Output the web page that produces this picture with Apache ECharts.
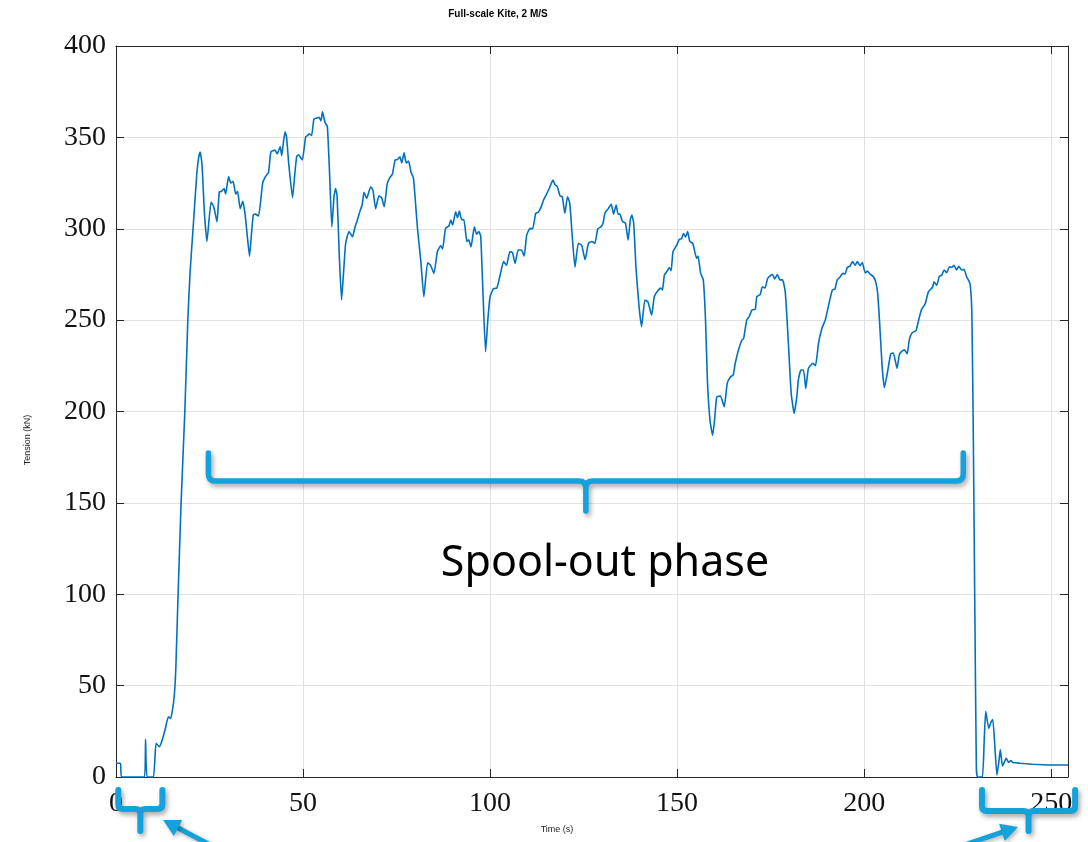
<!DOCTYPE html>
<html>
<head>
<meta charset="utf-8">
<title>Full-scale Kite, 2 M/S</title>
<script src="https://cdn.jsdelivr.net/npm/echarts@6/dist/echarts.min.js"></script>
<style>
  html, body { margin: 0; padding: 0; background: #fff; }
  #chart { width: 1088px; height: 842px; }
</style>
</head>
<body>
<div id="chart"></div>
<script>
// Tether tension record, full-scale kite at 2 m/s wind
const timeS = [
  0, 1.2, 1.5, 7.6, 7.9, 8.3, 10.0, 10.7, 11.6, 12.2, 13.1, 14.0, 14.6, 15.1, 15.6, 16.0, 16.6, 17.4, 18.4, 19.2,
  19.8, 20.6, 21.6, 22.1, 22.5, 23.0, 23.6, 24.3, 25.4, 25.9, 26.3, 27.0, 27.6, 28.2, 28.9, 29.3, 30.1, 30.7, 31.3, 32.0,
  32.5, 33.2, 33.9, 34.5, 35.1, 35.7, 36.2, 36.7, 37.2, 38.1, 39.2, 39.8, 40.3, 40.8, 41.4, 42.5, 43.1, 43.9, 44.3, 44.8,
  45.2, 45.6, 46.2, 47.2, 47.8, 48.3, 48.8, 49.8, 50.7, 51.2, 51.7, 52.3, 52.9, 53.6, 54.3, 54.8, 55.2, 55.9, 56.5, 57.1,
  57.7, 58.3, 58.7, 59.1, 59.7, 60.3, 60.8, 61.4, 62.3, 63.2, 63.9, 64.4, 65.2, 65.8, 66.3, 67.0, 68.1, 68.7, 69.4, 70.3,
  71.0, 71.7, 72.5, 73.2, 73.9, 74.6, 75.2, 75.9, 76.4, 77.0, 77.6, 78.2, 78.9, 79.5, 80.0, 80.6, 81.5, 82.3, 83.3, 84.1,
  85.0, 85.9, 86.8, 87.3, 88.1, 89.0, 89.5, 90.0, 90.8, 91.3, 91.8, 92.4, 93.0, 93.8, 94.3, 94.9, 95.8, 96.4, 97.0, 97.5,
  98.1, 98.8, 99.4, 100.0, 100.9, 101.8, 102.7, 103.6, 104.4, 105.3, 106.0, 106.7, 107.5, 108.4, 109.1, 109.8, 110.7, 111.4, 112.2, 112.9,
  113.6, 114.3, 115.0, 115.8, 116.8, 117.4, 118.0, 118.7, 119.3, 120.0, 120.7, 121.3, 122.0, 122.7, 123.6, 124.5, 125.4, 126.3, 127.2, 128.0,
  128.8, 129.6, 130.2, 130.7, 131.6, 132.4, 133.0, 133.7, 134.2, 134.7, 135.4, 136.2, 136.9, 137.5, 137.9, 138.4, 139.0, 139.8, 140.5, 141.4,
  142.2, 143.2, 143.9, 145.0, 145.7, 146.1, 146.6, 147.4, 147.9, 148.4, 148.9, 149.9, 150.6, 151.2, 151.7, 152.3, 152.8, 153.4, 154.2, 155.2,
  155.6, 156.3, 157.0, 157.6, 158.1, 158.8, 159.5, 160.0, 160.6, 161.6, 162.6, 163.4, 164.3, 165.0, 165.5, 166.4, 167.3, 167.8, 168.6, 169.3,
  170.0, 170.9, 171.3, 172.2, 172.8, 173.5, 174.2, 175.0, 175.5, 176.1, 176.8, 177.5, 178.2, 178.9, 179.4, 179.8, 180.5, 181.3, 182.0, 182.4,
  183.1, 183.8, 184.4, 185.1, 186.3, 187.0, 187.8, 188.7, 189.6, 190.6, 191.5, 192.2, 192.8, 193.5, 194.3, 194.9, 195.5, 196.2, 196.9, 197.6,
  198.2, 198.9, 199.5, 200.3, 200.9, 201.7, 202.5, 203.1, 203.6, 204.1, 204.8, 205.4, 206.2, 207.1, 207.8, 208.8, 209.4, 210.1, 210.8, 211.5,
  212.1, 212.8, 213.4, 213.9, 214.8, 215.4, 216.3, 217.2, 218.3, 218.7, 219.4, 220.1, 220.7, 221.4, 222.1, 222.8, 223.4, 224.0, 224.7, 225.3,
  226.1, 226.7, 227.4, 228.3, 228.8, 229.2, 229.6, 230.0, 230.3, 231.6, 232.1, 232.5, 233.3, 233.9, 234.4, 235.0, 235.5, 236.0, 236.4, 237.0,
  238.0, 238.6, 239.2, 239.9, 240.6, 241.7, 245.0, 249.7, 254.5
];

const tensionKN = [
  7.5, 7.5, 0, 0, 20.6, 0, 0, 18.4, 16.6, 19.3, 25.7, 33, 32, 36.7, 45, 60, 100, 150, 200, 250,
  276, 300, 330, 339, 342, 335, 310, 293, 314.5, 313, 310.6, 303.7, 320, 320.5, 322, 319, 328.5, 325, 326, 319,
  320.5, 311, 315, 308, 296, 285, 297, 307.5, 308, 307, 325, 328, 329.5, 331, 342, 343, 341, 345, 340, 348,
  353, 350, 335, 317, 330, 339.5, 340.5, 337.6, 350.4, 351, 352, 351, 360, 360.5, 361, 359, 364, 358, 356, 330,
  301, 318, 322, 318, 285, 261, 275, 292, 298.5, 295.6, 301, 304, 309.5, 313, 320, 316.6, 323, 321, 311, 318,
  317, 312, 324.5, 328, 330, 337.6, 337.8, 339.4, 336, 341.6, 336, 337, 330.7, 328, 316, 300, 282, 262.8, 281.4, 280,
  275.5, 287.4, 290.7, 289, 300.2, 301.5, 304.8, 302, 309.3, 306, 309.7, 305, 305, 293, 294, 290, 301, 297, 298.4, 296,
  265, 232.7, 250, 262.8, 267.3, 267.5, 274.7, 282, 280, 287.5, 287, 281, 288.4, 288.4, 285, 296.6, 300.2, 300, 308.5, 309,
  311.7, 315.7, 318.5, 322, 326.6, 324, 323, 318, 317.5, 308.5, 317.5, 314, 295, 279, 292, 291, 283, 292, 293, 292,
  300, 301, 303, 308.5, 311, 313.5, 308, 313, 308, 308, 304, 303, 293.8, 305, 307.5, 303, 279, 258, 246.4, 261,
  260, 252.8, 262.8, 266.5, 267.5, 266.5, 274.7, 277, 278.8, 277, 287.5, 291, 294.2, 294.5, 297.4, 295.5, 298.4, 293, 292, 283.8,
  285, 275.6, 272, 250, 217, 195, 187, 195, 208, 208.5, 202.6, 215.4, 219, 220, 226, 233.7, 239, 240, 250, 252,
  255.5, 256, 262.8, 264, 268.3, 267.5, 272.8, 274.5, 275, 272.5, 275, 272, 272, 265.6, 250, 235.4, 210, 199, 208, 217,
  222.7, 222.7, 212.6, 223.6, 226.4, 225, 237.3, 245.4, 250, 259, 266.5, 267, 272, 273.5, 275.6, 275.3, 278.8, 279.5, 282, 280,
  282, 279.8, 281.5, 275.8, 276.8, 275, 273.7, 270.8, 265, 250, 225, 213, 221, 231.5, 232, 223.6, 231, 233, 233.7, 231.5,
  239.5, 243, 243.7, 244.3, 251.9, 256, 258.8, 265.6, 268, 271, 269, 274, 274.5, 277.4, 276, 279.2, 278.8, 280, 277.5, 279.5,
  277.4, 277.8, 273.7, 270, 253.7, 184, 90, 5, 0, 0, 20, 36, 26.6, 30, 31.5, 15, 1, 8, 15, 6,
  10.2, 8, 9, 7.8, 7.8, 7.5, 7, 6.6, 6.6
];

const xTicks = [0, 50, 100, 150, 200, 250];
const yTicks = [0, 50, 100, 150, 200, 250, 300, 350, 400];

// Time spans marked with braces (seconds)
const spoolOutSpan = [24.7, 226.5];
const startSpan = [0.6, 12.4];
const endSpan = [231.5, 256.4];
const phaseLabel = 'Spool-out phase';

const X_MAX = timeS[timeS.length - 1];
const series = timeS.map((t, i) => [t, tensionKN[i]]);

const AXIS_COLOR = '#262626';
const GRID_COLOR = '#e2e2e2';
const SERIF = '"Liberation Serif", "DejaVu Serif", serif';
const SANS = '"Liberation Sans", Arial, sans-serif';

// Curly-brace shape: two end hooks, a bar and a central stem
const Brace = echarts.graphic.extendShape({
  type: 'brace',
  shape: { x1: 0, x2: 0, yTop: 0, yBar: 0, yTip: 0, r: 5 },
  buildPath: function (ctx, s) {
    const xc = (s.x1 + s.x2) / 2;
    ctx.moveTo(s.x1, s.yTop);
    ctx.lineTo(s.x1, s.yBar - s.r);
    ctx.quadraticCurveTo(s.x1, s.yBar, s.x1 + s.r, s.yBar);
    ctx.lineTo(xc - s.r, s.yBar);
    ctx.quadraticCurveTo(xc, s.yBar, xc, s.yBar + s.r);
    ctx.lineTo(xc, s.yTip);
    ctx.moveTo(xc, s.yBar + s.r);
    ctx.quadraticCurveTo(xc, s.yBar, xc + s.r, s.yBar);
    ctx.lineTo(s.x2 - s.r, s.yBar);
    ctx.quadraticCurveTo(s.x2, s.yBar, s.x2, s.yBar - s.r);
    ctx.lineTo(s.x2, s.yTop);
  }
});
echarts.graphic.registerShape('brace', Brace);

const chart = echarts.init(document.getElementById('chart'), null, { renderer: 'canvas' });

const tickFmt = (list) => (v) => (list.indexOf(Math.round(v * 1000) / 1000) >= 0 ? String(v) : '');

const baseX = {
  type: 'value', min: 0, max: X_MAX, interval: 50,
  axisLine: { show: true, onZero: false, lineStyle: { color: AXIS_COLOR, width: 1 } },
  axisTick: { show: true, inside: true, length: 8, lineStyle: { color: AXIS_COLOR } }
};
const baseY = {
  type: 'value', min: 0, max: 400, interval: 50,
  axisLine: { show: true, onZero: false, lineStyle: { color: AXIS_COLOR, width: 1 } },
  axisTick: { show: true, inside: true, length: 8, lineStyle: { color: AXIS_COLOR } }
};

chart.setOption({
  animation: false,
  backgroundColor: '#ffffff',
  grid: { left: 116, right: 20, top: 46, bottom: 65, containLabel: false },
  xAxis: [
    Object.assign({}, baseX, {
      position: 'bottom',
      axisLabel: { show: true, margin: 13, color: '#111', fontFamily: SERIF, fontSize: 28, formatter: tickFmt(xTicks), hideOverlap: false },
      splitLine: { show: true, lineStyle: { color: GRID_COLOR, width: 1 } }
    }),
    Object.assign({}, baseX, {
      position: 'top',
      axisLabel: { show: false },
      splitLine: { show: false }
    })
  ],
  yAxis: [
    Object.assign({}, baseY, {
      position: 'left',
      axisLabel: { show: true, margin: 10, color: '#111', fontFamily: SERIF, fontSize: 28, formatter: tickFmt(yTicks) },
      splitLine: { show: true, lineStyle: { color: GRID_COLOR, width: 1 } }
    }),
    Object.assign({}, baseY, {
      position: 'right',
      axisLabel: { show: false },
      splitLine: { show: false }
    })
  ],
  series: [{
    type: 'line',
    xAxisIndex: 0,
    yAxisIndex: 0,
    data: series,
    showSymbol: false,
    smooth: 0.15,
    lineStyle: { color: '#0072BD', width: 1.6 },
    z: 3
  }]
});

const BRACE_BLUE = '#14a2dc';
const SHADOW = { shadowBlur: 5, shadowColor: 'rgba(0,0,0,0.35)', shadowOffsetX: 2, shadowOffsetY: 3 };

function brace(span, yTop, yBar, yTip, r, w) {
  const x1 = chart.convertToPixel({ xAxisIndex: 0 }, span[0]);
  const x2 = chart.convertToPixel({ xAxisIndex: 0 }, span[1]);
  return {
    type: 'brace', z: 10,
    shape: { x1: x1, x2: x2, yTop: yTop, yBar: yBar, yTip: yTip, r: r },
    style: Object.assign({ fill: null, stroke: BRACE_BLUE, lineWidth: w, lineCap: 'round', lineJoin: 'round' }, SHADOW)
  };
}

function arrow(tail, tip, w, headLen, headHalf) {
  const dx = tip[0] - tail[0], dy = tip[1] - tail[1];
  const len = Math.hypot(dx, dy);
  const ux = dx / len, uy = dy / len;
  const bx = tip[0] - ux * headLen, by = tip[1] - uy * headLen;
  const px = -uy, py = ux;
  const shadow = { shadowBlur: 4, shadowColor: 'rgba(0,0,0,0.3)', shadowOffsetX: 2, shadowOffsetY: 2 };
  return [
    { type: 'line', z: 10, shape: { x1: tail[0], y1: tail[1], x2: bx + ux * 2, y2: by + uy * 2 },
      style: Object.assign({ stroke: BRACE_BLUE, lineWidth: w }, shadow) },
    { type: 'polygon', z: 10, shape: { points: [tip, [bx + px * headHalf, by + py * headHalf], [bx - px * headHalf, by - py * headHalf]] },
      style: Object.assign({ fill: BRACE_BLUE }, shadow) }
  ];
}

const graphics = [
  brace(spoolOutSpan, 453, 481, 511, 7, 5.5),
  brace(startSpan, 790, 809, 831, 5, 6),
  brace(endSpan, 790, 811, 831, 5, 6),
  ...arrow([216, 848], [163, 820], 5, 17, 9),
  ...arrow([955, 848], [1018, 827], 5, 17, 9),
  { type: 'text', x: 605, y: 564, z: 11,
    style: { text: phaseLabel, fontFamily: '"Noto Sans", "Open Sans", sans-serif', fontSize: 43, fill: '#000', align: 'center', verticalAlign: 'middle' } },
  { type: 'text', x: 498, y: 14, z: 11,
    style: { text: 'Full-scale Kite, 2 M/S', fontFamily: SANS, fontSize: 10, fontWeight: 'bold', fill: '#000', align: 'center', verticalAlign: 'middle' } },
  { type: 'text', x: 557, y: 830, z: 11,
    style: { text: 'Time (s)', fontFamily: SANS, fontSize: 9, fill: '#222', align: 'center', verticalAlign: 'middle' } },
  { type: 'text', x: 28, y: 440, rotation: Math.PI / 2, z: 11,
    style: { text: 'Tension (kN)', fontFamily: SANS, fontSize: 9, fill: '#222', align: 'center', verticalAlign: 'middle' } }
];

chart.setOption({ graphic: graphics });
</script>
</body>
</html>
